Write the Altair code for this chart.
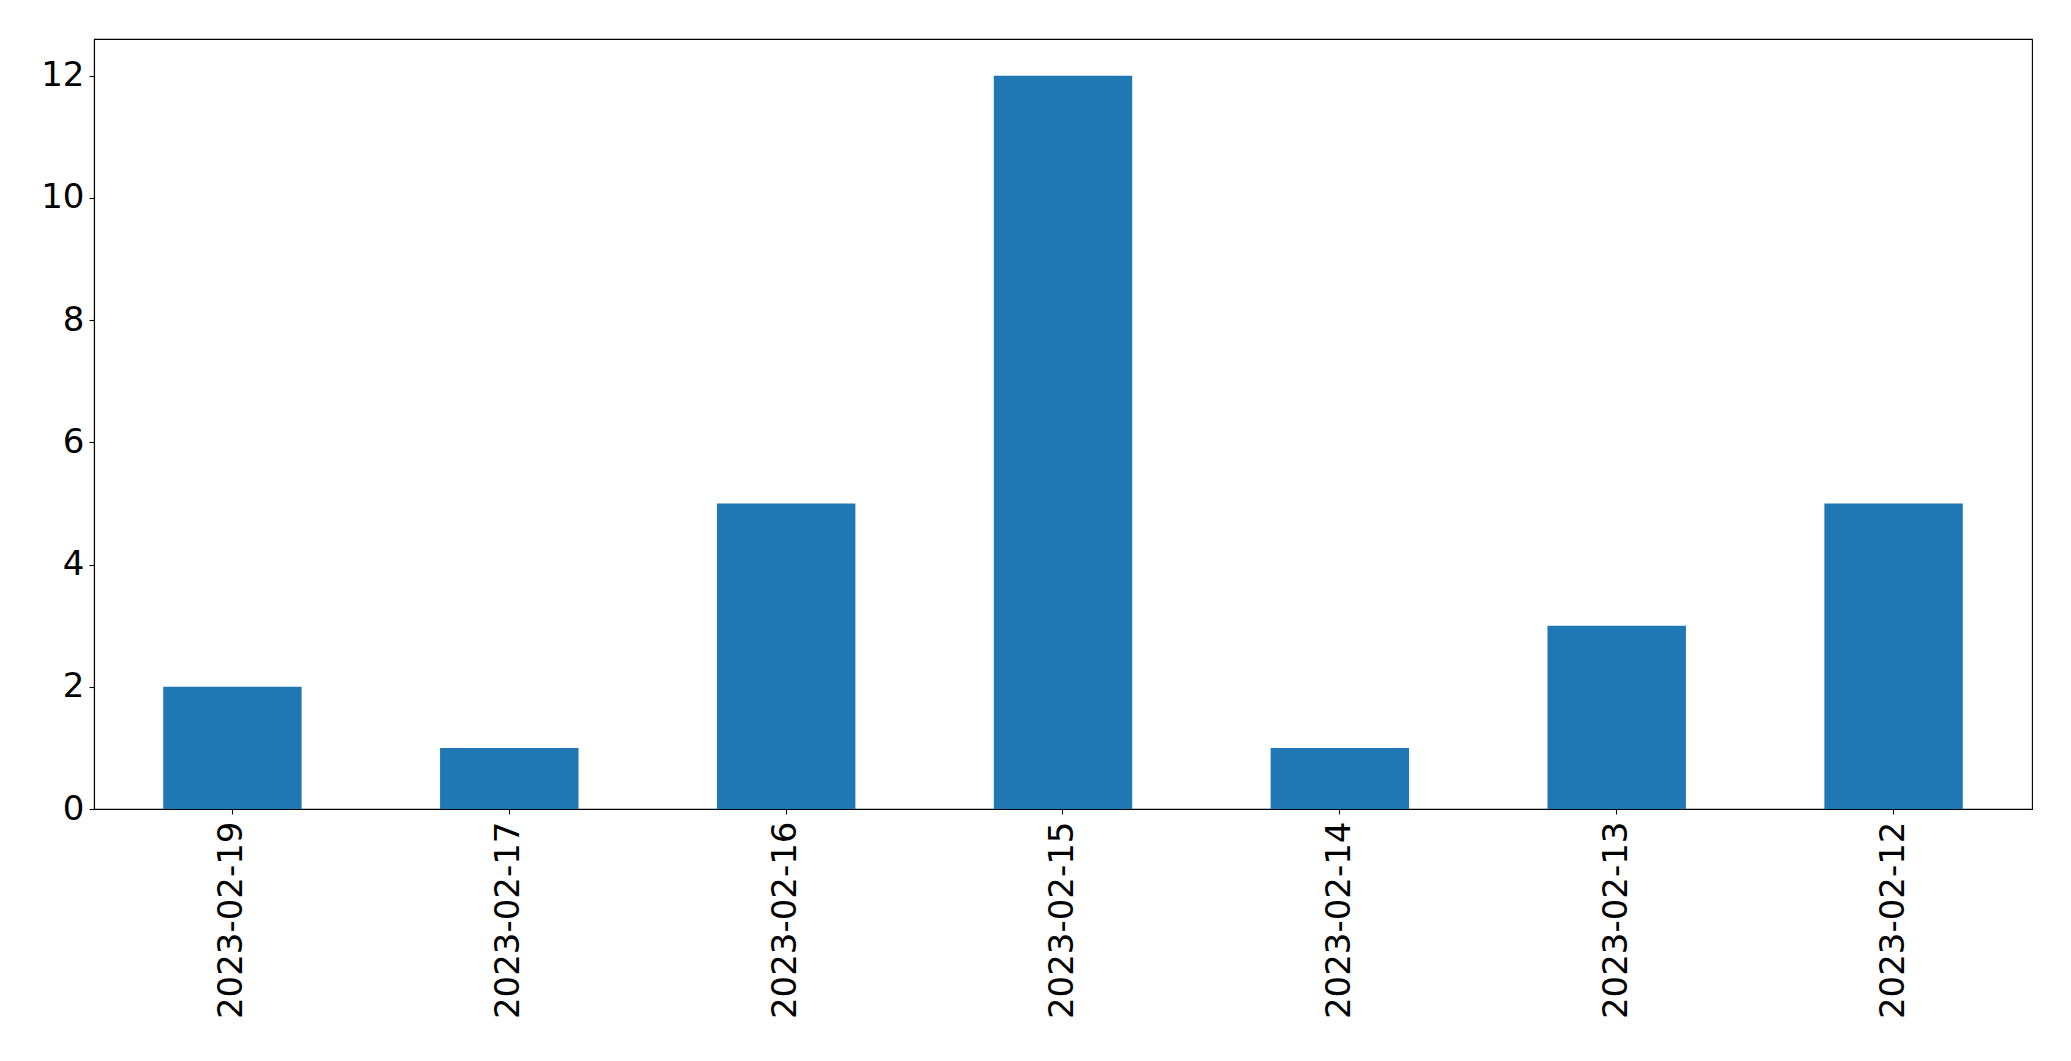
import altair as alt
import pandas as pd

dates = ["2023-02-19", "2023-02-17", "2023-02-16", "2023-02-15", "2023-02-14", "2023-02-13", "2023-02-12"]
counts = [2, 1, 5, 12, 1, 3, 5]
y_ticks = [0, 2, 4, 6, 8, 10, 12]

df = pd.DataFrame({"date": dates, "count": counts})

FONT = "DejaVu Sans"
FS = 34

chart = (
    alt.Chart(df)
    .mark_bar(color="#1f77b4")
    .encode(
        x=alt.X(
            "date:N",
            sort=None,
            title=None,
            scale=alt.Scale(paddingInner=0.5, paddingOuter=0.25),
            axis=alt.Axis(
                labelAngle=270,
                labelFont=FONT,
                labelFontSize=FS,
                labelColor="black",
                labelPadding=7,
                labelLimit=0,
                tickColor="black",
                tickSize=5,
                tickWidth=1.1,
                domain=True,
                domainColor="black",
                domainWidth=1.1,
                grid=False,
            ),
        ),
        y=alt.Y(
            "count:Q",
            title=None,
            scale=alt.Scale(domain=[0, 12.6], nice=False, zero=True),
            axis=alt.Axis(
                values=y_ticks,
                labelFont=FONT,
                labelFontSize=FS,
                labelColor="black",
                labelPadding=5,
                labelLimit=0,
                tickColor="black",
                tickSize=5,
                tickWidth=1.1,
                domain=True,
                domainColor="black",
                domainWidth=1.1,
                grid=False,
            ),
        ),
    )
    .properties(
        width=1938,
        height=770,
        autosize=alt.AutoSizeParams(type="none"),
        padding={"left": 86, "top": 31, "right": 30, "bottom": 230},
    )
    .configure(background="white")
    .configure_view(stroke="#000000", strokeWidth=1.1, fill="white")
)

chart.save("out.html", embed_options={"renderer": "svg", "actions": False})
